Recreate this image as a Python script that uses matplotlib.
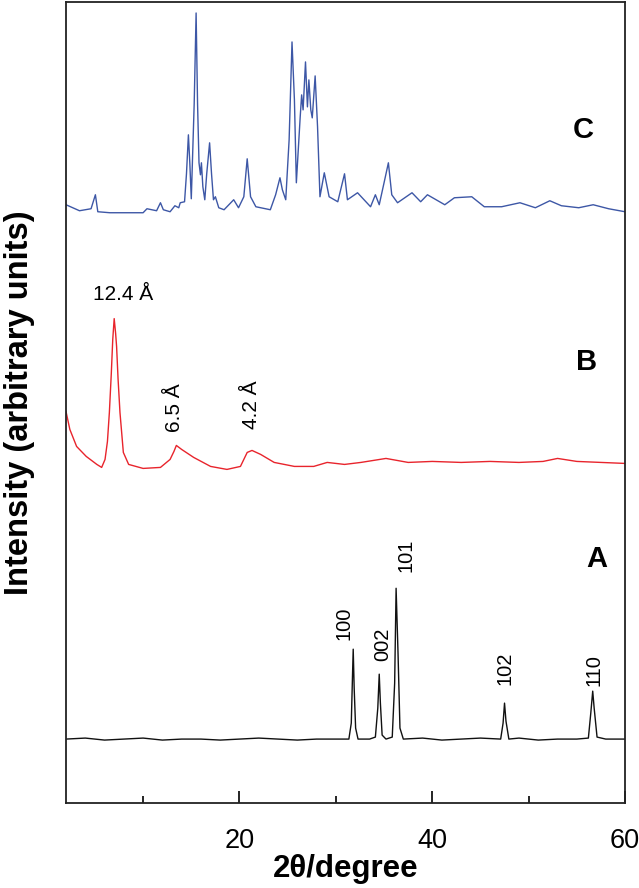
import matplotlib
matplotlib.use("Agg")
import matplotlib.pyplot as plt

plt.rcParams['font.family'] = ['Liberation Sans', 'DejaVu Sans']

# ---- Data (2theta in degrees, intensity in arbitrary units) ----
# Curve A (black)
a_x = [2.0, 4.0, 6.0, 8.0, 10.0, 12.0, 14.0, 16.0, 18.0, 20.0, 22.0, 24.0, 26.0, 28.0, 30.0, 31.35,
       31.6, 31.72, 31.8, 31.9, 32.05, 32.3, 33.5, 34.1, 34.35, 34.5, 34.62, 34.8, 35.2, 35.85, 36.1,
       36.25, 36.45, 36.65, 37.0, 39.0, 41.0, 43.0, 45.0, 47.1, 47.35, 47.5, 47.65, 47.95, 49.0, 51.0,
       53.0, 55.0, 56.2, 56.45, 56.65, 56.8, 57.1, 58.0, 60.0]
a_y = [64, 65, 63, 64, 65, 63, 64, 64, 63, 64, 65, 64, 63, 64, 64, 64,
       80, 125, 154, 115, 75, 64, 64, 66, 95, 129, 100, 68, 64, 66, 120,
       215, 150, 75, 64, 65, 63, 64, 65, 64, 80, 100, 82, 64, 65, 63,
       64, 64, 65, 90, 112, 95, 66, 64, 64]

# Curve B (red)
b_x = [2.0, 2.4, 3.1, 4.1, 5.2, 5.7, 6.05, 6.3, 6.5, 6.7, 6.85, 7.0, 7.15, 7.25, 7.4, 7.6, 7.95,
       8.5, 10.0, 11.8, 12.8, 13.2, 13.45, 14.0, 15.25, 17.0, 18.7, 20.1, 20.8, 21.3, 22.2, 23.6,
       25.7, 27.7, 29.1, 30.9, 32.6, 35.2, 37.5, 40.0, 43.0, 46.0, 49.0, 51.5, 53.0, 55.0, 57.5, 60.0]
b_y = [392, 374, 357, 347, 339, 336, 344, 362, 391, 430, 464, 485, 470, 457, 425, 391, 351,
       339, 335, 336, 344, 352, 358, 354, 346, 337, 334, 337, 351, 353, 349, 341,
       337, 337, 341, 339, 341, 345, 341, 342, 341, 342, 341, 342, 345, 342, 341, 340]

# Curve C (blue)
c_x = [2.0, 3.4, 4.6, 5.05, 5.3, 6.55, 8.3, 10.0, 10.4, 11.4, 11.8, 12.1, 12.8, 13.3, 13.7, 13.85,
       14.3, 14.5, 14.7, 14.85, 15.0, 15.3, 15.5, 15.65, 15.8, 15.95, 16.05, 16.2, 16.4, 16.6, 16.9,
       17.1, 17.3, 17.5, 17.85, 18.4, 19.4, 19.9, 20.45, 20.8, 21.15, 21.7, 23.2, 23.75, 24.2,
       24.45, 24.8, 25.15, 25.45, 25.7, 25.9, 26.3, 26.45, 26.6, 26.85, 27.05, 27.2, 27.4, 27.55,
       27.85, 28.1, 28.35, 28.8, 29.3, 30.2, 30.9, 31.2, 32.25, 33.6, 34.1, 34.5, 35.0, 35.45,
       35.8, 36.4, 37.9, 38.8, 39.5, 41.3, 42.3, 44.1, 45.4, 47.2, 49.1, 50.7, 52.2, 53.4, 55.2,
       56.7, 58.3, 60.0]
c_y = [599, 593, 595, 609, 592, 591, 591, 591, 595, 593, 601, 594, 592, 598, 596, 601,
       602, 630, 669, 640, 605, 700, 791, 700, 641, 629, 641, 617, 604, 630, 661,
       630, 604, 607, 596, 594, 604, 596, 607, 645, 607, 597, 594, 609, 626,
       614, 604, 664, 762, 704, 621, 687, 709, 694, 742, 697, 724, 694, 686,
       728, 677, 607, 631, 607, 602, 630, 604, 611, 597, 609, 599, 621, 641,
       609, 601, 611, 602, 609, 599, 606, 607, 597, 597, 601, 596, 603, 598, 596,
       599, 595, 592]

peak_labels_a = ["100", "002", "101", "102", "110"]
peak_labels_b = ["12.4 Å", "6.5 Å", "4.2 Å"]
trace_names = ["A", "B", "C"]

fig = plt.figure(figsize=(6.39, 8.88), dpi=100)
ax = fig.add_axes([66 / 639, 1 - 803 / 888, (625 - 66) / 639, (803 - 2) / 888])

ax.plot(a_x, a_y, color='#111111', lw=1.0)
ax.plot(b_x, b_y, color='#e8242c', lw=1.0)
ax.plot(c_x, c_y, color='#3d57a6', lw=1.0)

ax.set_xlim(2, 60)
ax.set_ylim(0, 802)

# annotations for A
a_lab_pos = [(30.83, 180), (34.9, 159), (37.3, 248), (47.5, 135), (56.8, 133)]
for lab, (x, y) in zip(peak_labels_a, a_lab_pos):
    ax.text(x, y, lab, rotation=90, ha='center', va='center', fontsize=14.5)

# annotations for B
ax.text(7.9, 509, peak_labels_b[0], ha='center', va='center', fontsize=15)
ax.text(13.3, 396, peak_labels_b[1], rotation=90, ha='center', va='center', fontsize=15)
ax.text(21.25, 399, peak_labels_b[2], rotation=90, ha='center', va='center', fontsize=15)

# trace names
for name, (x, y) in zip(trace_names, [(57.1, 244), (56.0, 442), (55.7, 674)]):
    ax.text(x, y, name, ha='center', va='center', fontsize=21, fontweight='bold')

ax.set_xticks([20, 40, 60])
ax.set_xticks([10, 30, 50], minor=True)
ax.set_yticks([])
ax.tick_params(axis='x', which='major', direction='in', length=9, width=1.2,
               labelsize=19.5, pad=18)
ax.tick_params(axis='x', which='minor', direction='in', length=5, width=1.2)
for s in ax.spines.values():
    s.set_linewidth(1.3)
    s.set_color('#222222')

ax.set_xlabel('2θ/degree', fontsize=22.5, fontweight='bold', labelpad=0)
ax.set_ylabel('Intensity (arbitrary units)', fontsize=23.5, fontweight='bold', labelpad=22)

fig.savefig('out.png', dpi=100)
